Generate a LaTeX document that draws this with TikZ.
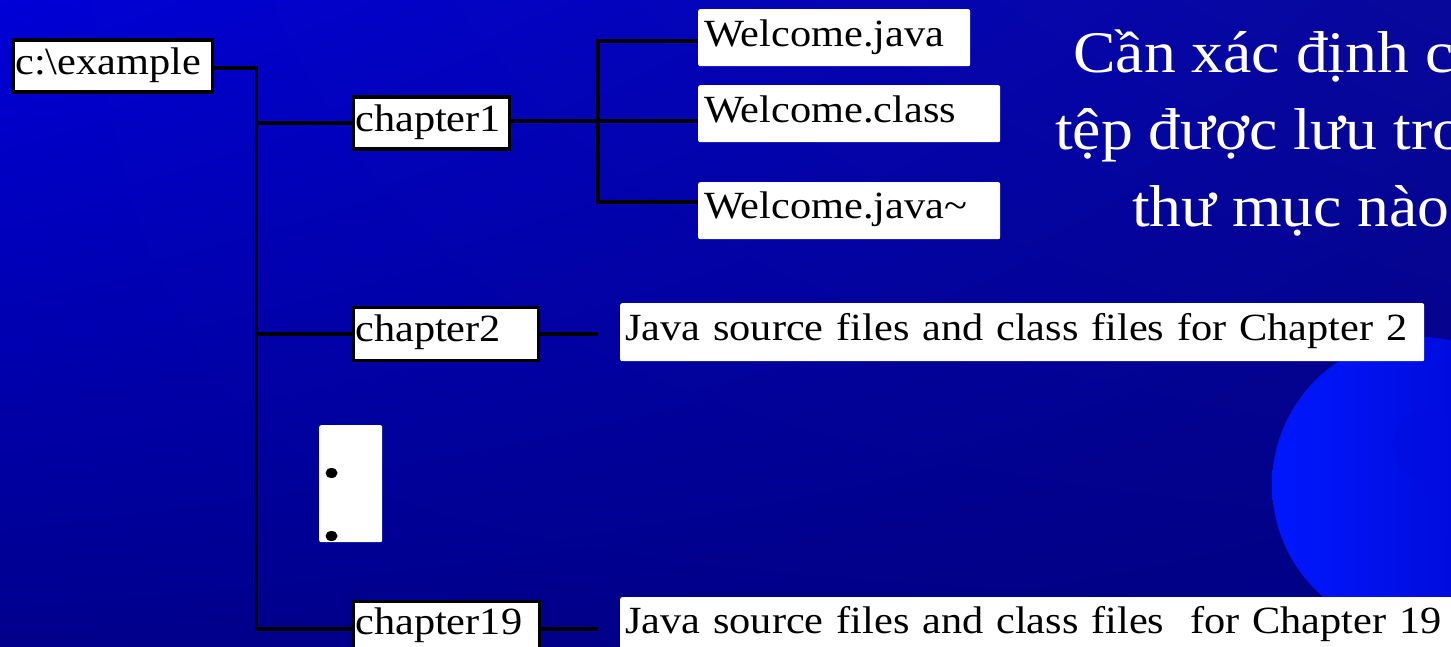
\documentclass[tikz,border=0pt]{standalone}
\usepackage{fontspec}
\usetikzlibrary{shadings}
\setmainfont{Liberation Serif}
\newfontfamily\boxfont{Liberation Serif}[FakeStretch=1.1]
\newfontfamily\titlefont{Liberation Serif}[FakeStretch=1.08]
\definecolor{bgUL}{RGB}{0,0,215}
\definecolor{bgUR}{RGB}{8,8,155}
\definecolor{bgLL}{RGB}{0,0,140}
\definecolor{bgLR}{RGB}{0,0,130}
\definecolor{globeA}{RGB}{0,24,255}
\definecolor{globeB}{RGB}{0,4,200}
\definecolor{landblue}{RGB}{0,12,225}
\begin{document}
\begin{tikzpicture}[x=1pt,y=-1pt,
  boxtext/.style={font=\boxfont\fontsize{38.5}{41}\selectfont},
  dirbox/.style={boxtext, draw=black, line width=3.5pt, fill=white, anchor=north west,
    inner xsep=2pt, inner ysep=0pt, align=left},
  filebox/.style={boxtext, fill=white, rounded corners=2pt, anchor=north west,
    inner xsep=6pt, inner ysep=0pt, align=left},
  wire/.style={draw=black, line width=3.5pt},
  title/.style={font=\titlefont\fontsize{59}{70}\selectfont, text=white,
    anchor=base west, inner sep=0pt}]

\useasboundingbox (0,0) rectangle (1451,647);
\clip (0,0) rectangle (1451,647);

% slide background
\shade[upper left=bgUL, upper right=bgUR, lower left=bgLL, lower right=bgLR]
  (0,0) rectangle (1451,647);

% globe in the lower right corner
\shade[left color=globeA, right color=globeB] (1420,485) circle[radius=148];
\begin{scope}
  \clip (1420,485) circle[radius=148];
  \fill[landblue, opacity=0.5] (1400,420) .. controls (1425,400) and (1450,405) .. (1460,430)
    -- (1460,560) .. controls (1445,540) and (1430,500) .. (1415,480)
    .. controls (1395,470) and (1385,440) .. (1400,420) -- cycle;
\end{scope}

% title
\node[title] (t1) at (1073,73) {Cần xác định c};
\node[title] (t2) at (1055,150) {tệp được lưu tro};
\node[title] (t3) at (1132,227) {thư mục nào};

% directory boxes
\node[dirbox, text width=195pt, text height=34.5pt, text depth=17.5pt]
  (ex) at (11.5,38.5) {c:\textbackslash example};
\node[dirbox, text width=152pt, text height=34.5pt, text depth=17.5pt]
  (ch1) at (351.5,95.5) {chapter1};
\node[dirbox, text width=181pt, text height=34.5pt, text depth=18.5pt]
  (ch2) at (351.5,305.5) {chapter2};
\node[dirbox, text width=182pt, text height=33.5pt, text depth=25pt]
  (ch19) at (351.5,599.5) {chapter19};

% file boxes
\node[filebox, text width=260pt, text height=37pt, text depth=20pt]
  (wj) at (698,9) {Welcome.java};
\node[filebox, text width=290pt, text height=37pt, text depth=20pt]
  (wc) at (698,85) {Welcome.class};
\node[filebox, text width=290pt, text height=36pt, text depth=21pt]
  (wb) at (698,182) {Welcome.java\textasciitilde};
\node[filebox, inner xsep=5pt, text width=794pt, text height=37pt, text depth=21pt]
  (src2) at (620,303) {Java source files and class files for Chapter 2};
\node[filebox, inner xsep=5pt, text width=840pt, text height=36pt, text depth=27pt]
  (src19) at (620,597) {Java source files and class files \ for Chapter 19};

% ellipsis box with its two dots
\node[fill=white, rounded corners=2pt, anchor=north west, inner sep=0pt,
  minimum width=63pt, minimum height=117pt] (gap) at (319,425) {};
\fill[black] (331.5,473) ellipse (6pt and 5pt);
\fill[black] (331.5,536) ellipse (6pt and 5pt);

% tree connectors
\coordinate (t0) at (256.5,68);
\coordinate (tb) at (256.5,629);
\draw[wire] (ex.east |- t0) -- (t0) -- (tb) -- (ch19.west |- tb);
\draw[wire] (t0 |- ch1.west) -- (ch1.west);
\draw[wire] (t0 |- 0,334) -- (ch2.west |- 0,334);

\coordinate (f1) at (598,41);
\coordinate (f2) at (598,121);
\coordinate (f3) at (598,202);
\draw[wire] (ch1.east |- f2) -- (f2);
\draw[wire] (wj.west |- f1) -- (f1) -- (f3) -- (wb.west |- f3);
\draw[wire] (f2) -- (wc.west |- f2);

\coordinate (e2) at (598,334);
\coordinate (e19) at (598,629);
\draw[wire] (ch2.east |- e2) -- (e2);
\draw[wire] (ch19.east |- e19) -- (e19);
\end{tikzpicture}
\end{document}
